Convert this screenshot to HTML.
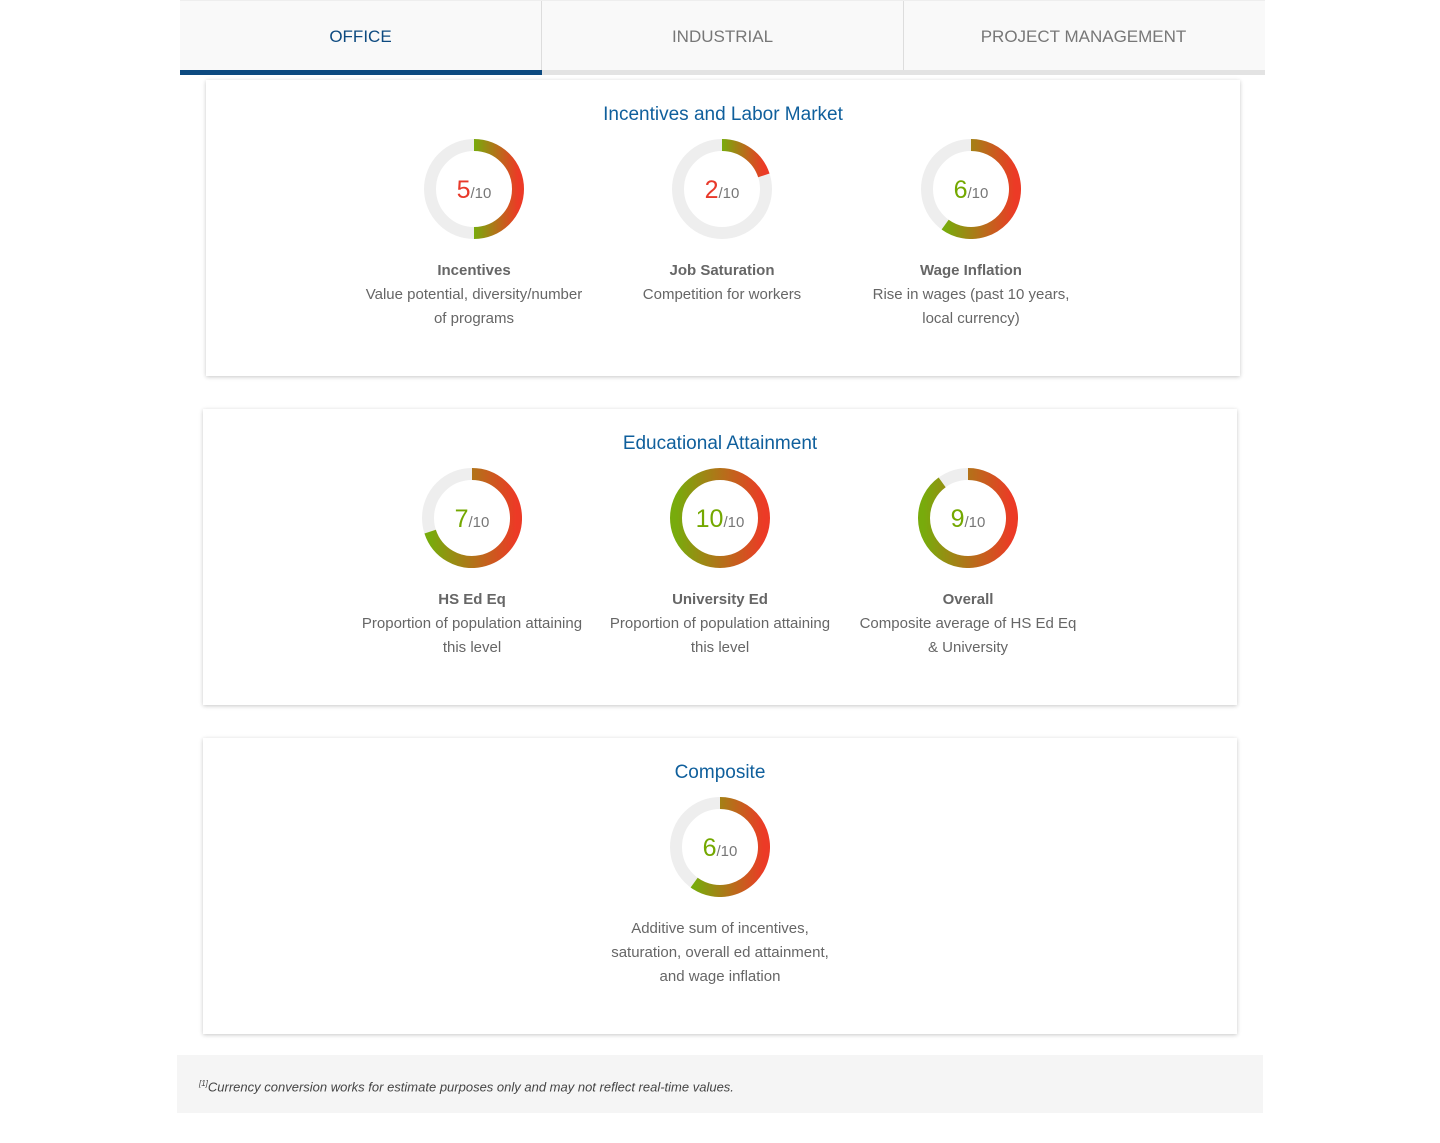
<!DOCTYPE html>
<html><head><style>
body{margin:0;width:1440px;height:1143px;background:#fff;font-family:"Liberation Sans",sans-serif;position:relative;overflow:hidden}
.tabs{position:absolute;left:180px;top:0;width:1085px;height:74px;background:#f9f9f9;border-top:1px solid #eee}
.tab{position:absolute;top:0;height:69px;width:361px;text-align:center;line-height:72px;font-size:17px;color:#777;border-right:1px solid #ddd}
.bar{position:absolute;top:69px;height:5px}
.card{position:absolute;width:1034px;height:296px;background:#fff;box-shadow:0 1px 4px rgba(0,0,0,.22)}
.title{position:absolute;top:24px;width:100%;text-align:center;color:#0f5f9c;font-size:19px}
.ring{position:absolute;width:240px;text-align:center}
.ring svg{display:block;margin:0 auto}
.score{position:absolute;top:37px;width:100%;text-align:center;font-size:25px;color:#777}
.score small{font-size:15px;color:#777}
.lbl{margin-top:20px;font-weight:bold;color:#666;font-size:15px;line-height:24px}
.desc{color:#666;font-size:15px;line-height:24px}
.r{color:#e8392a}.g{color:#74a800}
</style></head><body>
<svg width="0" height="0" style="position:absolute"><defs><linearGradient id="gr"><stop offset="0" stop-color="#78ab0c"/><stop offset="1" stop-color="#ec3a26"/></linearGradient></defs></svg>
<div class="tabs">
<div class="tab" style="left:0;color:#0d4a80">OFFICE</div>
<div class="tab" style="left:362px">INDUSTRIAL</div>
<div class="tab" style="left:723px;border-right:none">PROJECT MANAGEMENT</div>
<div class="bar" style="left:0;width:362px;background:#0d4a80"></div>
<div class="bar" style="left:362px;width:723px;background:#e3e3e3"></div>
</div>

<div class="card" style="left:206px;top:80px">
<div class="title">Incentives and Labor Market</div>
<div class="ring" style="left:148px;top:59px"><svg width="100" height="100"><circle cx="50" cy="50" r="44" fill="none" stroke="#eee" stroke-width="12"/><path d="M50 6 A44 44 0 0 1 50 94" fill="none" stroke="url(#gr)" stroke-width="12"/></svg><div class="score"><span class="r">5</span><small>/10</small></div><div class="lbl">Incentives</div><div class="desc">Value potential, diversity/number<br>of programs</div></div>
<div class="ring" style="left:396px;top:59px"><svg width="100" height="100"><circle cx="50" cy="50" r="44" fill="none" stroke="#eee" stroke-width="12"/><path d="M50 6 A44 44 0 0 1 91.85 36.4" fill="none" stroke="url(#gr)" stroke-width="12"/></svg><div class="score"><span class="r">2</span><small>/10</small></div><div class="lbl">Job Saturation</div><div class="desc">Competition for workers</div></div>
<div class="ring" style="left:645px;top:59px"><svg width="100" height="100"><circle cx="50" cy="50" r="44" fill="none" stroke="#eee" stroke-width="12"/><path d="M50 6 A44 44 0 1 1 24.14 85.6" fill="none" stroke="url(#gr)" stroke-width="12"/></svg><div class="score"><span class="g">6</span><small>/10</small></div><div class="lbl">Wage Inflation</div><div class="desc">Rise in wages (past 10 years,<br>local currency)</div></div>
</div>

<div class="card" style="left:203px;top:409px">
<div class="title">Educational Attainment</div>
<div class="ring" style="left:149px;top:59px"><svg width="100" height="100"><circle cx="50" cy="50" r="44" fill="none" stroke="#eee" stroke-width="12"/><path d="M50 6 A44 44 0 1 1 8.15 63.6" fill="none" stroke="url(#gr)" stroke-width="12"/></svg><div class="score"><span class="g">7</span><small>/10</small></div><div class="lbl">HS Ed Eq</div><div class="desc">Proportion of population attaining<br>this level</div></div>
<div class="ring" style="left:397px;top:59px"><svg width="100" height="100"><circle cx="50" cy="50" r="44" fill="none" stroke="url(#gr)" stroke-width="12"/></svg><div class="score"><span class="g">10</span><small>/10</small></div><div class="lbl">University Ed</div><div class="desc">Proportion of population attaining<br>this level</div></div>
<div class="ring" style="left:645px;top:59px"><svg width="100" height="100"><circle cx="50" cy="50" r="44" fill="none" stroke="#eee" stroke-width="12"/><path d="M50 6 A44 44 0 1 1 24.14 14.4" fill="none" stroke="url(#gr)" stroke-width="12"/></svg><div class="score"><span class="g">9</span><small>/10</small></div><div class="lbl">Overall</div><div class="desc">Composite average of HS Ed Eq<br>&amp; University</div></div>
</div>

<div class="card" style="left:203px;top:738px">
<div class="title">Composite</div>
<div class="ring" style="left:397px;top:59px"><svg width="100" height="100"><circle cx="50" cy="50" r="44" fill="none" stroke="#eee" stroke-width="12"/><path d="M50 6 A44 44 0 1 1 24.14 85.6" fill="none" stroke="url(#gr)" stroke-width="12"/></svg><div class="score"><span class="g">6</span><small>/10</small></div><div class="desc" style="margin-top:20px">Additive sum of incentives,<br>saturation, overall ed attainment,<br>and wage inflation</div></div>
</div>

<div style="position:absolute;left:177px;top:1055px;width:1086px;height:58px;background:#f5f5f5;font-size:13px;font-style:italic;color:#444;line-height:58px;box-sizing:border-box;padding-left:22px"><sup style="font-size:8px">[1]</sup>Currency conversion works for estimate purposes only and may not reflect real-time values.</div>
</body></html>
